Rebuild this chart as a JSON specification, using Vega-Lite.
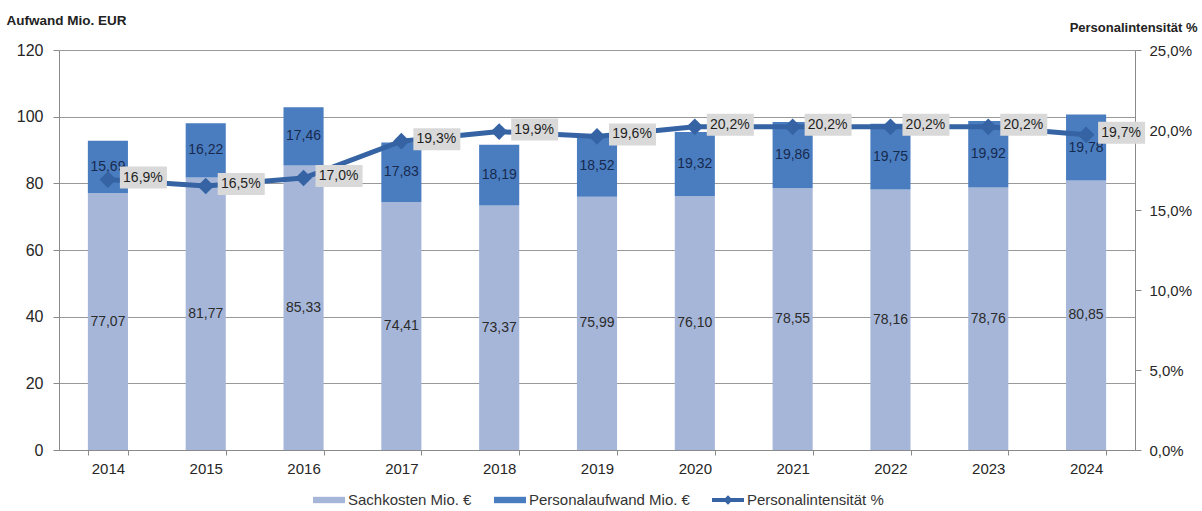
{
  "$schema": "https://vega.github.io/schema/vega-lite/v6.json",
  "width": 1076,
  "height": 400,
  "autosize": "none",
  "padding": {"left": 59, "top": 50, "right": 67, "bottom": 61},
  "background": "white",
  "config": {
    "view": {"stroke": null},
    "font": "Liberation Sans",
    "locale": {"number": {"decimal": ",", "thousands": ".", "grouping": [3], "currency": ["", " €"]}},
    "axis": {"labelFont": "Liberation Sans", "labelFontSize": 15, "labelColor": "#262626", "domainColor": "#8a8a8a", "tickColor": "#8a8a8a", "titleFont": "Liberation Sans"}
  },
  "datasets": {
    "bars": [
      {"year": "2014", "series": "Sachkosten Mio. €", "value": 77.07},
      {"year": "2014", "series": "Personalaufwand Mio. €", "value": 15.69},
      {"year": "2015", "series": "Sachkosten Mio. €", "value": 81.77},
      {"year": "2015", "series": "Personalaufwand Mio. €", "value": 16.22},
      {"year": "2016", "series": "Sachkosten Mio. €", "value": 85.33},
      {"year": "2016", "series": "Personalaufwand Mio. €", "value": 17.46},
      {"year": "2017", "series": "Sachkosten Mio. €", "value": 74.41},
      {"year": "2017", "series": "Personalaufwand Mio. €", "value": 17.83},
      {"year": "2018", "series": "Sachkosten Mio. €", "value": 73.37},
      {"year": "2018", "series": "Personalaufwand Mio. €", "value": 18.19},
      {"year": "2019", "series": "Sachkosten Mio. €", "value": 75.99},
      {"year": "2019", "series": "Personalaufwand Mio. €", "value": 18.52},
      {"year": "2020", "series": "Sachkosten Mio. €", "value": 76.10},
      {"year": "2020", "series": "Personalaufwand Mio. €", "value": 19.32},
      {"year": "2021", "series": "Sachkosten Mio. €", "value": 78.55},
      {"year": "2021", "series": "Personalaufwand Mio. €", "value": 19.86},
      {"year": "2022", "series": "Sachkosten Mio. €", "value": 78.16},
      {"year": "2022", "series": "Personalaufwand Mio. €", "value": 19.75},
      {"year": "2023", "series": "Sachkosten Mio. €", "value": 78.76},
      {"year": "2023", "series": "Personalaufwand Mio. €", "value": 19.92},
      {"year": "2024", "series": "Sachkosten Mio. €", "value": 80.85},
      {"year": "2024", "series": "Personalaufwand Mio. €", "value": 19.78}
    ],
    "pct": [
      {"year": "2014", "pct": 0.169},
      {"year": "2015", "pct": 0.165},
      {"year": "2016", "pct": 0.170},
      {"year": "2017", "pct": 0.193},
      {"year": "2018", "pct": 0.199},
      {"year": "2019", "pct": 0.196},
      {"year": "2020", "pct": 0.202},
      {"year": "2021", "pct": 0.202},
      {"year": "2022", "pct": 0.202},
      {"year": "2023", "pct": 0.202},
      {"year": "2024", "pct": 0.197}
    ]
  },
  "encoding": {
    "x": {
      "field": "year", "type": "nominal", "title": null,
      "scale": {"paddingInner": 0.59, "paddingOuter": 0.295},
      "axis": {"labelAngle": 0, "tickBand": "extent", "tickSize": 5, "labelPadding": 6, "grid": false}
    }
  },
  "layer": [
    {
      "data": {"name": "bars"},
      "encoding": {
        "y": {
          "field": "value", "type": "quantitative", "stack": "zero",
          "scale": {"domain": [0, 120]},
          "axis": {
            "values": [0, 20, 40, 60, 80, 100, 120], "grid": true, "gridColor": "#999999",
            "tickSize": 6, "labelPadding": 10, "labelFontSize": 16,
            "title": "Aufwand Mio. EUR", "titleAngle": 0, "titleAlign": "left", "titleBaseline": "middle",
            "titleX": -53, "titleY": -30, "titleFontSize": 13.5, "titleFontWeight": "bold", "titleColor": "#222222"
          }
        },
        "order": {"field": "series", "sort": "descending"}
      },
      "layer": [
        {
          "mark": {"type": "bar"},
          "encoding": {
            "color": {
              "field": "series", "type": "nominal",
              "scale": {"domain": ["Sachkosten Mio. €", "Personalaufwand Mio. €", "Personalintensität %"], "range": ["#A6B6D9", "#4A7DC0", "#3563A3"]},
              "legend": {
                "orient": "none", "direction": "horizontal", "legendX": 254, "legendY": 434,
                "title": null, "labelFontSize": 15, "labelColor": "#333333", "labelFont": "Liberation Sans",
                "labelLimit": 400,
                "symbolSize": 1024, "symbolStrokeWidth": 0, "labelOffset": 3, "columnPadding": 22,
                "encode": {
                  "symbols": {"update": {
                    "shape": {"signal": "datum.value === 'Personalintensität %' ? 'M-1,-0.13L1,-0.13L1,0.13L-1,0.13Z M0,-0.3L0.3,0L0,0.3L-0.3,0Z' : 'M-1,-0.2L1,-0.2L1,0.2L-1,0.2Z'"},
                    "strokeWidth": {"value": 0}
                  }}
                }
              }
            }
          }
        },
        {
          "mark": {"type": "text", "fontSize": 14, "baseline": "middle", "align": "center"},
          "encoding": {
            "y": {"field": "value", "type": "quantitative", "stack": "zero", "bandPosition": 0.5},
            "text": {"field": "value", "type": "quantitative", "format": ".2f"},
            "color": {"condition": {"test": "datum.series === 'Sachkosten Mio. €'", "value": "#2b2b2b"}, "value": "#172a4f"}
          }
        }
      ]
    },
    {
      "data": {"name": "pct"},
      "encoding": {
        "y": {
          "field": "pct", "type": "quantitative",
          "scale": {"domain": [0, 0.25]},
          "axis": {
            "orient": "right", "values": [0, 0.05, 0.1, 0.15, 0.2, 0.25], "format": ".1%", "grid": false,
            "tickSize": 6, "labelPadding": 8,
            "title": "Personalintensität %", "titleAngle": 0, "titleAlign": "right", "titleBaseline": "middle",
            "titleX": 62, "titleY": -23, "titleFontSize": 13, "titleFontWeight": "bold", "titleColor": "#222222"
          }
        }
      },
      "layer": [
        {"mark": {"type": "line", "color": "#3563A3", "strokeWidth": 5}},
        {"mark": {"type": "point", "shape": "diamond", "filled": true, "size": 280, "color": "#3563A3", "opacity": 1}},
        {"mark": {"type": "point", "shape": "M0.24,-0.26L1.18,-0.26L1.18,0.18L0.24,0.18Z", "filled": true, "size": 10000, "color": "#D9D9D9", "opacity": 1, "strokeWidth": 0}},
        {
          "mark": {"type": "text", "fontSize": 14, "dx": 35, "dy": -2, "align": "center", "baseline": "middle", "color": "#1f1f1f"},
          "encoding": {"text": {"field": "pct", "type": "quantitative", "format": ".1%"}}
        }
      ]
    }
  ],
  "resolve": {"scale": {"y": "independent"}}
}
